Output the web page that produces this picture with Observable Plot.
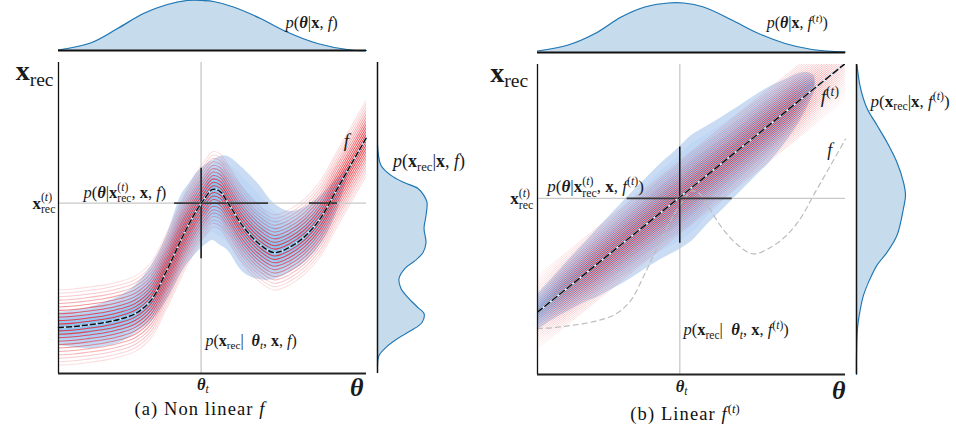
<!DOCTYPE html>
<html><head><meta charset="utf-8">
<script src="https://cdn.jsdelivr.net/npm/d3@7"></script>
<script src="https://cdn.jsdelivr.net/npm/@observablehq/plot@0.6"></script>
<style>
body{margin:0;background:#fff;}
#root{position:relative;width:956px;height:427px;overflow:hidden;font-family:"Liberation Serif","DejaVu Serif",serif;}
.pane{position:absolute;}
.cap{position:absolute;top:399px;font-size:18.5px;line-height:20px;letter-spacing:1.1px;text-align:center;color:#111;white-space:nowrap;}
</style></head><body>
<svg width="0" height="0" style="position:absolute"><defs>
<linearGradient id="fadeB" gradientUnits="userSpaceOnUse" x1="59" y1="0" x2="367" y2="0">
<stop offset="0" stop-color="#e6303a" stop-opacity="0.3"/>
<stop offset="0.08" stop-color="#e6303a" stop-opacity="0.7"/>
<stop offset="0.18" stop-color="#e6303a" stop-opacity="1"/>
<stop offset="0.83" stop-color="#e6303a" stop-opacity="1"/>
<stop offset="0.91" stop-color="#e6303a" stop-opacity="0.5"/>
<stop offset="1" stop-color="#e6303a" stop-opacity="0.2"/>
</linearGradient>
</defs></svg>
<div id="root"></div>
<script>
// ---------- data (theta and x_rec in arbitrary units 0..10) ----------
const thetaGrid = [0,0.5,1,1.5,2,2.5,3,3.5,4,4.25,4.5,4.75,5,5.25,5.5,6,6.5,7,7.5,8,8.5,9,9.5,10];
const fA   = [1.48,1.51,1.57,1.64,1.75,1.93,2.35,3.28,4.34,4.83,5.27,5.63,5.92,5.85,5.49,4.72,4.18,3.89,4.06,4.41,4.98,5.85,6.72,7.59];
const blueTopA = [1.96,2.03,2.12,2.28,2.48,2.83,3.44,4.40,5.76,6.11,6.46,6.69,6.85,6.98,6.98,6.59,6.08,5.47,5.21,5.34,5.69,6.21,6.72,null];
const blueBotA = [0.90,0.84,0.80,0.87,1.00,1.29,1.66,2.32,3.25,3.60,3.89,4.12,4.28,4.12,3.95,3.25,3.02,3.02,3.25,3.57,4.12,5.08,6.72,null];

const thetaBlueB = [0,0.5,1,1.5,2,2.5,3,3.5,4,4.5,5,5.5,6,6.5,7,7.5,8,8.5,8.8,9.0];
const blueTopB = [2.59,3.12,3.68,4.21,4.75,5.28,5.81,6.30,6.80,7.23,7.71,8.01,8.31,8.62,8.95,9.26,9.49,9.71,9.73,9.63];
const blueBotB = [1.43,1.77,2.04,2.31,2.52,2.79,3.07,3.40,3.71,3.97,4.29,4.82,5.31,5.81,6.31,6.80,7.40,8.13,8.69,9.11];

const ftTheta = [0, 10];
const ftX = [2.01, 10.04];

const redOffsetsA = [-1.21,-1.10,-0.99,-0.88,-0.77,-0.66,-0.55,-0.44,-0.33,-0.22,-0.11,0,0.11,0.22,0.33,0.44,0.55,0.66,0.77,0.88,0.99,1.10,1.21];
const redOffsetsB = [-1.17,-1.105,-1.04,-0.975,-0.91,-0.845,-0.78,-0.715,-0.65,-0.585,-0.52,-0.455,-0.39,-0.325,-0.26,-0.195,-0.13,-0.065,0,0.065,0.13,0.195,0.26,0.325,0.39,0.455,0.52,0.585,0.65,0.715,0.78,0.845,0.91,0.975,1.04,1.105,1.17];

const topThetaA = [0,1.04,1.92,2.76,3.54,4.19,4.68,5.03,5.68,6.56,7.31,8.41,9.48,10];
const topDensA  = [0.01,0.15,0.44,0.74,0.92,1.0,1.0,0.98,0.87,0.64,0.40,0.14,0.01,0];
const rightXA = [7.33,7.01,6.69,6.37,6.14,5.95,5.72,5.50,5.08,4.66,4.21,3.89,3.63,3.38,3.05,2.73,2.44,2.12,1.93,1.64,1.38,1.13,0.84,0.58,0.26];
const rightDA = [0.00,0.02,0.07,0.27,0.53,0.81,0.93,0.99,0.97,0.93,0.97,0.91,0.75,0.55,0.43,0.47,0.61,0.81,0.93,0.89,0.67,0.41,0.17,0.03,0.00];

const topThetaB = [0,1.0,1.87,2.72,3.49,4.26,4.74,5.39,6.31,7.07,8.04,8.91,10];
const topDensB  = [0.03,0.15,0.38,0.71,0.91,0.99,0.99,0.91,0.65,0.41,0.18,0.06,0.01];
const rightXB = [9.98,9.24,8.59,8.04,7.49,6.84,6.20,5.78,5.37,4.49,3.94,3.53,2.98,2.56,2.14,1.50,0.62,0.0];
const rightDB = [0.01,0.08,0.21,0.41,0.61,0.81,0.94,0.98,0.94,0.81,0.61,0.41,0.24,0.14,0.08,0.02,0.0,0.0];

const thetaTA = 4.63, xrecTA = 5.48;
const crossVA = [3.69, 6.60];
const crossHA = [[3.77, 6.82], [8.15, 9.06]];
const thetaTB = 4.62, xrecTB = 5.68;
const crossVB = [4.23, 7.34];
const crossHB = [[2.91, 6.32]];

const XRT = "<b>x</b><st><sub>rec</sub><sup>(<i>t</i>)</sup></st>";
const labelsMainA = [
  {x:-0.16, y:9.71, s:"<b>x</b><sub>rec</sub>", a:"end", fs:28},
  {x:-0.10, y:xrecTA, s:XRT, a:"end", fs:17},
  {x:0.81, y:5.82, s:"<i>p</i>(<bi>θ</bi>|"+XRT+", <b>x</b>, <i>f</i>)", a:"start", fs:16.5},
  {x:9.35, y:7.49, s:"<i>f</i>", a:"middle", fs:19},
  {x:4.77, y:1.06, s:"<i>p</i>(<b>x</b><sub>rec</sub>|\u00a0\u00a0<bi>θ</bi><sub><i>t</i></sub>, <b>x</b>, <i>f</i>)", a:"start", fs:16},
  {x:thetaTA+0.06, y:-0.35, s:"<bi>θ</bi><sub><i>t</i></sub>", a:"middle", fs:16.5},
  {x:9.68, y:-0.45, s:"<bi>θ</bi>", a:"middle", fs:26}
];
const labelsTopA = [{x:7.37, y:0.56, s:"<i>p</i>(<bi>θ</bi>|<b>x</b>, <i>f</i>)", a:"start", fs:16.5}];
const labelsRightA = [{x:0.31, y:6.82, s:"<i>p</i>(<b>x</b><sub>rec</sub>|<b>x</b>, <i>f</i>)", a:"start", fs:18}];

const FT = "<i>f</i><sup>(<i>t</i>)</sup>";
const labelsMainB = [
  {x:-0.30, y:9.74, s:"<b>x</b><sub>rec</sub>", a:"end", fs:28},
  {x:-0.14, y:xrecTB, s:XRT, a:"end", fs:17},
  {x:0.32, y:6.07, s:"<i>p</i>(<bi>θ</bi>|"+XRT+", <b>x</b>, "+FT+")", a:"start", fs:17},
  {x:9.49, y:8.95, s:FT, a:"middle", fs:19.5},
  {x:9.49, y:7.24, s:"<i>f</i>", a:"middle", fs:18},
  {x:4.74, y:1.43, s:"<i>p</i>(<b>x</b><sub>rec</sub>|\u00a0\u00a0<bi>θ</bi><sub><i>t</i></sub>, <b>x</b>, "+FT+")", a:"start", fs:16.5},
  {x:thetaTB+0.06, y:-0.38, s:"<bi>θ</bi><sub><i>t</i></sub>", a:"middle", fs:16.5},
  {x:9.78, y:-0.51, s:"<bi>θ</bi>", a:"middle", fs:26}
];
const labelsTopB = [{x:7.44, y:0.59, s:"<i>p</i>(<bi>θ</bi>|<b>x</b>, "+FT+")", a:"start", fs:16}];
const labelsRightB = [{x:0.28, y:8.82, s:"<i>p</i>(<b>x</b><sub>rec</sub>|<b>x</b>, "+FT+")", a:"start", fs:17}];

// ---------- styles ----------
const SERIF = '"Liberation Serif","DejaVu Serif",serif';
const blueLevels = [1, 0.84, 0.68, 0.52, 0.36, 0.2];
const blueColors = ["#cadcf4", "#bfd7f4", "#b3d2f5", "#a6cdf5", "#99c8f4", "#8bc3f3"];
const RED = "#e6303a";
const redOp = o => 0.07 + 0.88 * Math.exp(-((o / 0.8) ** 2));
const GREY = "#c8c8c8";
const DENS_FILL = "#c6dbeb", DENS_LINE = "#1f77b4";

function textMarks(labels) {
  return labels.map(l => Plot.text([l], {x:"x", y:"y", text:"s", textAnchor:l.a, fontSize:l.fs, fill:"#1a1a1a"}));
}
function baseOpts(w, h, m) {
  return {width:w, height:h, marginLeft:m[0], marginRight:m[1], marginTop:m[2], marginBottom:m[3],
    style:{background:"transparent", fontFamily:SERIF, overflow:"visible"}};
}

// ---------- panel A ----------
const rowsA = thetaGrid.map((t,i) => ({t, f:fA[i], top:blueTopA[i], bot:blueBotA[i]}));
const blueRowsA = rowsA.filter(d => d.top != null);
const redRowsA = redOffsetsA.slice().sort((a,b)=>Math.abs(b)-Math.abs(a))
  .flatMap(o => rowsA.map(d => ({t:d.t, y:d.f + o, o})));

const mainA = Plot.plot({
  ...baseOpts(371, 344, [58, 5, 6, 27]),
  x:{domain:[0,10], axis:null}, y:{domain:[0,10], axis:null},
  marks:[
    ...blueLevels.map((k,j) => Plot.areaY(blueRowsA, {x:"t", y1:d=>d.f - k*(d.f-d.bot), y2:d=>d.f + k*(d.top-d.f), fill:blueColors[j], curve:"catmull-rom"})),
    Plot.line(redRowsA, {x:"t", y:"y", z:"o", stroke:RED, strokeOpacity:d=>redOp(d.o), strokeWidth:1.05, curve:"catmull-rom", clip:true}),
    Plot.ruleX([thetaTA], {stroke:GREY, strokeWidth:1.3}),
    Plot.ruleY([xrecTA], {stroke:GREY, strokeWidth:1.3}),
    Plot.ruleY(crossHA, {y:xrecTA, x1:d=>d[0], x2:d=>d[1], stroke:"#383838", strokeWidth:1.8}),
    Plot.ruleX([thetaTA], {y1:crossVA[0], y2:crossVA[1], stroke:"#111", strokeWidth:1.5}),
    Plot.line(rowsA, {x:"t", y:"f", stroke:"#d4ebff", strokeWidth:1.8, curve:"catmull-rom"}),
    Plot.line(rowsA, {x:"t", y:"f", stroke:"#111", strokeWidth:1.5, strokeDasharray:"5,3", curve:"catmull-rom"}),
    Plot.ruleX([0], {stroke:"#111", strokeWidth:1.3}),
    Plot.ruleY([0], {stroke:"#222", strokeWidth:1.8}),
    ...textMarks(labelsMainA)
  ]
});
const topRowsA = topThetaA.map((t,i)=>({t, d:topDensA[i]}));
const topA = Plot.plot({
  ...baseOpts(478, 56, [58, 112, 0, 6]),
  x:{domain:[0,10], axis:null}, y:{domain:[0,1], axis:null},
  marks:[
    Plot.areaY(topRowsA, {x:"t", y:"d", fill:DENS_FILL, curve:"catmull-rom"}),
    Plot.line(topRowsA, {x:"t", y:"d", stroke:DENS_LINE, strokeWidth:1.2, curve:"catmull-rom"}),
    Plot.ruleY([0], {stroke:"#111", strokeWidth:2}),
    ...textMarks(labelsTopA)
  ]
});
const rightRowsA = rightXA.map((x,i)=>({x, d:rightDA[i]}));
const rightA = Plot.plot({
  ...baseOpts(107, 344, [6, 51, 6, 27]),
  x:{domain:[0,1], axis:null}, y:{domain:[0,10], axis:null},
  marks:[
    Plot.areaX(rightRowsA, {y:"x", x:"d", fill:DENS_FILL, curve:"catmull-rom"}),
    Plot.line(rightRowsA, {x:"d", y:"x", stroke:DENS_LINE, strokeWidth:1.2, curve:"catmull-rom"}),
    Plot.ruleX([0], {stroke:"#111", strokeWidth:1.5}),
    ...textMarks(labelsRightA)
  ]
});

// ---------- panel B ----------
const blueRowsB = thetaBlueB.map((t,i)=>({t, top:blueTopB[i], bot:blueBotB[i], c:(blueTopB[i]+blueBotB[i])/2}));
const redRowsB = redOffsetsB.slice().sort((a,b)=>Math.abs(b)-Math.abs(a))
  .flatMap(o => ftTheta.map((t,i)=>({t, y:ftX[i]+o, o})));
const ftRows = ftTheta.map((t,i)=>({t, y:ftX[i]}));

const mainB = Plot.plot({
  ...baseOpts(372, 344, [59, 5, 8, 26]),
  x:{domain:[0,10], axis:null}, y:{domain:[0,10], axis:null},
  marks:[
    ...blueLevels.map((k,j) => Plot.areaY(blueRowsB, {x:"t", y1:d=>d.c - k*(d.c-d.bot), y2:d=>d.c + k*(d.top-d.c), fill:blueColors[j], curve:"catmull-rom"})),
    Plot.line(redRowsB, {x:"t", y:"y", z:"o", stroke:"url(#fadeB)", strokeOpacity:d=>redOp(d.o), strokeWidth:1, clip:true}),
    Plot.line(rowsA, {x:"t", y:"f", stroke:"#bdbdbd", strokeWidth:1.2, strokeDasharray:"5,4", curve:"catmull-rom"}),
    Plot.ruleX([thetaTB], {stroke:GREY, strokeWidth:1.3}),
    Plot.ruleY([xrecTB], {stroke:GREY, strokeWidth:1.3}),
    Plot.ruleY(crossHB, {y:xrecTB, x1:d=>d[0], x2:d=>d[1], stroke:"#383838", strokeWidth:1.8}),
    Plot.ruleX([thetaTB], {y1:crossVB[0], y2:crossVB[1], stroke:"#111", strokeWidth:1.5}),
    Plot.line(ftRows, {x:"t", y:"y", stroke:"#d4ebff", strokeWidth:1.8, clip:true}),
    Plot.line(ftRows, {x:"t", y:"y", stroke:"#111", strokeWidth:1.5, strokeDasharray:"6,3.5", clip:true}),
    Plot.ruleX([0], {stroke:"#111", strokeWidth:1.3}),
    Plot.ruleY([0], {stroke:"#222", strokeWidth:1.8}),
    ...textMarks(labelsMainB)
  ]
});
const topRowsB = topThetaB.map((t,i)=>({t, d:topDensB[i]}));
const topB = Plot.plot({
  ...baseOpts(478, 56, [59, 111, 2, 4]),
  x:{domain:[0,10], axis:null}, y:{domain:[0,1], axis:null},
  marks:[
    Plot.areaY(topRowsB, {x:"t", y:"d", fill:DENS_FILL, curve:"catmull-rom"}),
    Plot.line(topRowsB, {x:"t", y:"d", stroke:DENS_LINE, strokeWidth:1.2, curve:"catmull-rom"}),
    Plot.ruleY([0], {stroke:"#111", strokeWidth:2}),
    ...textMarks(labelsTopB)
  ]
});
const rightRowsB = rightXB.map((x,i)=>({x, d:rightDB[i]}));
const rightB = Plot.plot({
  ...baseOpts(106, 344, [6, 50, 8, 26]),
  x:{domain:[0,1], axis:null}, y:{domain:[0,10], axis:null},
  marks:[
    Plot.areaX(rightRowsB, {y:"x", x:"d", fill:DENS_FILL, curve:"catmull-rom"}),
    Plot.line(rightRowsB, {x:"d", y:"x", stroke:DENS_LINE, strokeWidth:1.2, curve:"catmull-rom"}),
    Plot.ruleX([0], {stroke:"#111", strokeWidth:1.5}),
    ...textMarks(labelsRightB)
  ]
});

// ---------- layout ----------
const root = document.getElementById("root");
function place(svg, left, top, w, h) {
  const d = document.createElement("div");
  d.className = "pane";
  Object.assign(d.style, {left:left+"px", top:top+"px", width:w+"px", height:h+"px"});
  d.appendChild(svg); root.appendChild(d);
}
place(topA, 0, 0, 478, 56);
place(mainA, 0, 56, 371, 344);
place(rightA, 371, 56, 107, 344);
place(topB, 478, 0, 478, 56);
place(mainB, 478, 56, 372, 344);
place(rightB, 850, 56, 106, 344);

function addCap(html, cx) {
  const d = document.createElement("div");
  d.className = "cap"; d.innerHTML = html;
  d.style.left = (cx - 110) + "px"; d.style.width = "220px";
  root.appendChild(d);
}
addCap("(a) Non linear <i>f</i>", 200);
addCap("(b) Linear <i>f</i><sup style='font-size:12.5px;letter-spacing:0'>(<i>t</i>)</sup>", 685);

// ---------- rich math text (sub/superscripts, bold, italic) ----------
const SVGNS = "http://www.w3.org/2000/svg";
function richify(rootEl) {
  rootEl.querySelectorAll("text").forEach(t => {
    const src = t.textContent;
    if (!src.includes("<")) return;
    const fs = parseFloat(getComputedStyle(t).fontSize) || 12;
    const doc = new DOMParser().parseFromString("<div>" + src + "</div>", "text/html");
    const div = doc.body.firstElementChild;
    while (t.firstChild) t.removeChild(t.firstChild);
    const state = {cur:0, dx:0};
    function emit(str, st) {
      const ts = document.createElementNS(SVGNS, "tspan");
      ts.textContent = str;
      ts.setAttribute("font-size", (fs*st.scale).toFixed(2));
      ts.setAttribute("font-style", st.italic ? "italic" : "normal");
      ts.setAttribute("font-weight", st.bold ? "bold" : "normal");
      const dy = st.shift - state.cur;
      if (Math.abs(dy) > 1e-6) ts.setAttribute("dy", dy.toFixed(2));
      state.cur = st.shift;
      if (state.dx) { ts.setAttribute("dx", state.dx.toFixed(2)); state.dx = 0; }
      t.appendChild(ts);
      return ts.getComputedTextLength();
    }
    const subSt = (st, k) => ({...st, scale:0.7, shift:st.shift + k*fs});
    const supSt = (st, k) => ({...st, scale:0.7, shift:st.shift - k*fs});
    function walk(node, st) {
      let w = 0;
      for (const ch of node.childNodes) {
        if (ch.nodeType === 3) { if (ch.nodeValue) w += emit(ch.nodeValue, st); continue; }
        const tag = ch.tagName.toLowerCase();
        if (tag === "st") {
          const [sb, sp] = Array.from(ch.children);
          const w1 = walk(sb, subSt({...st, italic:false, bold:false}, 0.28));
          state.dx = -w1;
          const w2 = walk(sp, supSt({...st, italic:false, bold:false}, 0.42));
          state.dx = Math.max(0, w1 - w2);
          w += Math.max(w1, w2);
          continue;
        }
        let ns = {...st};
        if (tag === "i") { ns.italic = true; ns.bold = false; }
        else if (tag === "b") { ns.bold = true; ns.italic = false; }
        else if (tag === "bi") { ns.bold = true; ns.italic = true; }
        else if (tag === "sub") { ns = subSt({...st, italic:false, bold:false}, 0.2); }
        else if (tag === "sup") { ns = supSt({...st, italic:false, bold:false}, 0.38); }
        w += walk(ch, ns);
      }
      return w;
    }
    walk(div, {italic:false, bold:false, scale:1, shift:0});
  });
}
richify(root);
</script></body></html>
